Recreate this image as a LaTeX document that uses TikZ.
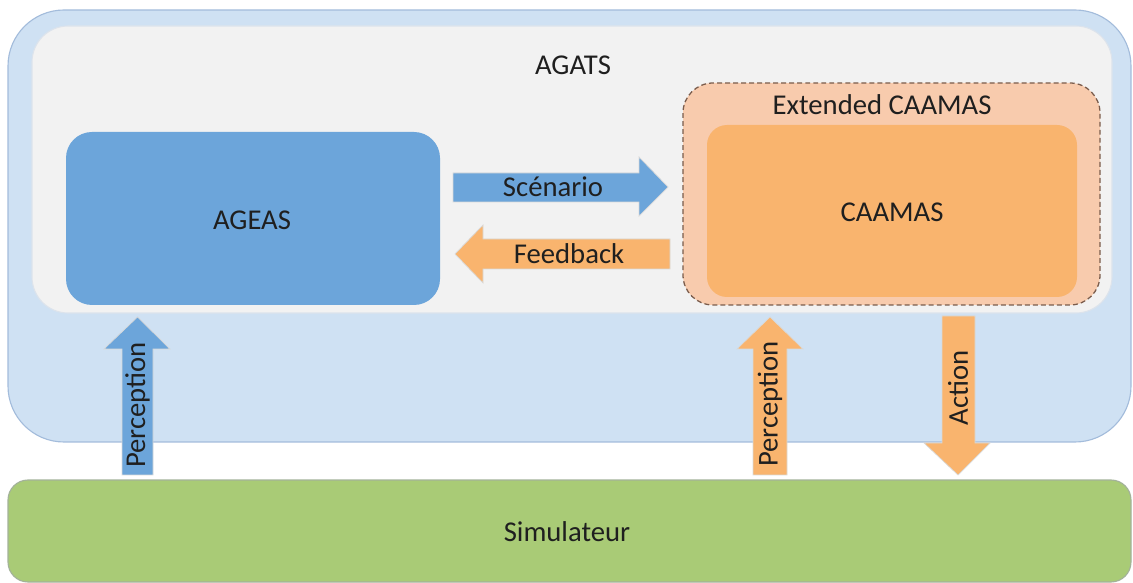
\documentclass[tikz,border=0pt]{standalone}
\usepackage{fontspec}
\setmainfont{Carlito}
\usetikzlibrary{positioning}
\definecolor{agatsout}{HTML}{CFE1F3}
\definecolor{agatsline}{HTML}{A3BCDB}
\definecolor{agatsin}{HTML}{F2F2F2}
\definecolor{agatsinline}{HTML}{DCE3EC}
\definecolor{ageas}{HTML}{6CA5DA}
\definecolor{extcaamas}{HTML}{F8CBAD}
\definecolor{dashline}{HTML}{7A5C4C}
\definecolor{caamas}{HTML}{F9B46E}
\definecolor{simu}{HTML}{A9CB76}
\definecolor{simuline}{HTML}{A3B29A}
\tikzset{
  lbl/.style={font=\fontsize{20.4}{24}\selectfont, text=black!88, inner sep=0pt},
  blockarrow/.style={draw=white!85!black, line width=0.5pt},
}

\begin{document}
\begin{tikzpicture}[x=0.025cm,y=-0.025cm]
  \useasboundingbox (0,0) rectangle (1133,583);

  % AGATS
  \fill[agatsout,draw=agatsline,line width=0.8pt,rounded corners=1.4cm] (8,10) rectangle (1131,442);
  \fill[agatsin,draw=agatsinline,line width=0.8pt,rounded corners=0.9cm] (32,26) rectangle (1112,313);
  \node[lbl] (agats) at (573,65) {AGATS};

  % AGEAS
  \fill[ageas,rounded corners=0.65cm] (66,132) rectangle (440,305);
  \node[lbl] (ageas) at (252,220) {AGEAS};

  % Extended CAAMAS
  \fill[extcaamas,rounded corners=0.75cm] (683,83) rectangle (1100,305);
  \draw[dashline,line width=0.9pt,dash pattern=on 3.5pt off 2.2pt,rounded corners=0.75cm] (683,83) rectangle (1100,305);
  \node[lbl] (extcaamas) at (882,105) {Extended CAAMAS};
  \fill[caamas,rounded corners=0.5cm] (707,125) rectangle (1077,297);
  \node[lbl] (caamas) at (892,212) {CAAMAS};

  % Simulateur
  \fill[simu,draw=simuline,line width=0.8pt,rounded corners=0.5cm] (8,480) rectangle (1131,582);
  \node[lbl] (simu) at (567,532) {Simulateur};

  % Scenario / Feedback
  \fill[ageas,blockarrow] (453,173) -- (639,173) -- (639,157) -- (668,187)
    -- (639,216) -- (639,202) -- (453,202) -- cycle;
  \node[lbl] (scenario) at (553,187) {Scénario};
  \fill[caamas,blockarrow] (670,239) -- (483,239) -- (483,225) -- (455,254)
    -- (483,283) -- (483,269) -- (670,269) -- cycle;
  \node[lbl] (feedback) at (569,254) {Feedback};

  % Perception (AGEAS)
  \fill[ageas,blockarrow] (122,475) -- (122,349) -- (104,349) -- (137.5,317)
    -- (170,349) -- (153,349) -- (153,475) -- cycle;
  \node[lbl,rotate=90] (percageas) at (137.5,405) {Perception};

  % Perception (CAAMAS)
  \fill[caamas,blockarrow] (753,475) -- (753,349) -- (737,349) -- (770,317)
    -- (803,349) -- (787,349) -- (787,475) -- cycle;
  \node[lbl,rotate=90] (perccaamas) at (770,404) {Perception};

  % Action
  \fill[caamas,blockarrow] (942,316) -- (975,316) -- (975,443) -- (990,443)
    -- (958,475) -- (924,443) -- (942,443) -- cycle;
  \node[lbl,rotate=90] (action) at (958,388) {Action};
\end{tikzpicture}
\end{document}
